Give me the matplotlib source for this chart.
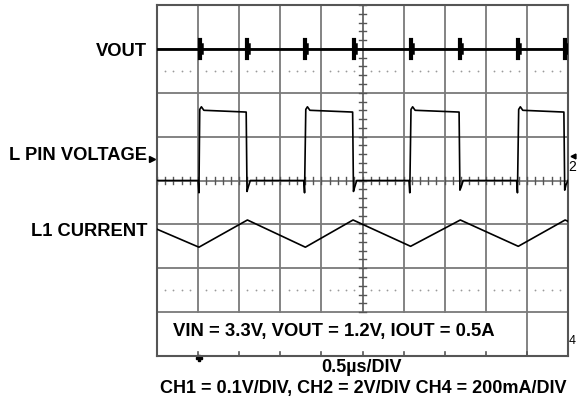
import matplotlib.pyplot as plt
import numpy as np

plt.rcParams['font.family'] = ['Liberation Sans', 'DejaVu Sans']

# screen is 10 x 8 divisions; traces in divisions
rise_times = [1.04, 3.61, 6.17, 8.79]
fall_times = [2.20, 4.79, 7.38, 9.93]

vout_level = 7.0

lpin_t = [0.00, 1.00, 1.02, 1.04, 1.08, 1.14, 2.17, 2.19, 2.22, 2.27,
          3.57, 3.59, 3.62, 3.66, 3.72, 4.76, 4.78, 4.81, 4.86,
          6.13, 6.15, 6.18, 6.22, 6.28, 7.35, 7.37, 7.40, 7.45,
          8.75, 8.77, 8.80, 8.84, 8.90, 9.90, 9.92, 9.95, 10.0]
lpin_v = [4.00, 4.00, 3.72, 5.62, 5.68, 5.60, 5.56, 3.75, 3.85, 4.00,
          4.00, 3.72, 5.62, 5.68, 5.60, 5.56, 3.75, 3.85, 4.00,
          4.00, 3.72, 5.62, 5.68, 5.60, 5.56, 3.78, 3.85, 4.00,
          4.00, 3.72, 5.62, 5.68, 5.60, 5.56, 3.78, 3.90, 4.00]

il_t = [0.00, 1.02, 2.20, 3.61, 4.77, 6.17, 7.38, 8.79, 9.93, 10.0]
il_v = [2.89, 2.48, 3.10, 2.48, 3.10, 2.50, 3.10, 2.50, 3.10, 3.07]

labels = ['VOUT', 'L PIN VOLTAGE', 'L1 CURRENT']
label_y = [6.93, 4.58, 2.84]
cond_text = 'VIN = 3.3V, VOUT = 1.2V, IOUT = 0.5A'
xlabel = '0.5\u00b5s/DIV'
scale_text = 'CH1 = 0.1V/DIV, CH2 = 2V/DIV CH4 = 200mA/DIV'

fig = plt.figure(figsize=(5.78, 4.04), dpi=100)
ax = fig.add_axes([157 / 578, 48 / 404, 411 / 578, 351 / 404])
ax.set_xlim(0, 10)
ax.set_ylim(0, 8)
ax.set_xticks([])
ax.set_yticks([])
for s in ax.spines.values():
    s.set_color('#555555')
    s.set_linewidth(1.5)

grid_c = '#7a7a7a'
# bottom row holds the condition text, so lines 1..8 stop at the first row
for x in range(1, 9):
    if x == 5:
        continue
    ax.axvline(x, ymin=1 / 8, color=grid_c, lw=1.3, zorder=1)
ax.axvline(9, color=grid_c, lw=1.3, zorder=1)
for y in range(1, 8):
    ax.axhline(y, color=grid_c, lw=1.3, zorder=1)

minor = np.arange(0, 10.01, 0.2)
minor_y = np.arange(1, 8.01, 0.2)
# center axes with minor ticks
for x in minor:
    ax.plot([x, x], [3.92, 4.08], color='#555555', lw=1, zorder=2)
for y in minor_y:
    ax.plot([4.92, 5.08], [y, y], color='#555555', lw=1, zorder=2)
ax.axvline(5, ymin=1 / 8, color='#666666', lw=1.3, zorder=1)
# dotted rows
dots = [x for x in minor if abs(x - round(x)) > 0.05]
for y in [6.5, 1.5]:
    ax.plot(dots, [y] * len(dots), ls='none', marker='o', ms=1.3, mew=0, color='#9a9a9a')
# bottom border ticks
for x in range(1, 10):
    ax.plot([x, x], [0, 0.1], color='#555555', lw=1.2)

# traces
ax.plot([0, 10], [vout_level, vout_level], color='black', lw=2.0, zorder=3)
for t in rise_times + fall_times:
    ax.plot([t, t], [6.80, 7.20], color='black', lw=3.0, zorder=3)
    ax.plot([t + 0.05, t + 0.05], [6.90, 7.10], color='black', lw=1.8, zorder=3)
ax.plot(lpin_t, lpin_v, color='black', lw=1.2, zorder=3)
ax.plot(il_t, il_v, color='black', lw=1.2, zorder=3)

ax.text(0.38, 0.55, cond_text, fontsize=13.3, fontweight='bold', va='center', ha='left')

# trigger marker and channel markers
ax.plot([1.03], [-0.05], marker='P', ms=5, color='black', clip_on=False)
ax.text(10.11, 4.3, '2', fontsize=10, va='center', ha='center', clip_on=False)
ax.plot([10.11], [4.55], marker='<', ms=3.5, color='black', clip_on=False)
ax.text(10.11, 0.35, '4', fontsize=9, va='center', ha='center', clip_on=False)

for lab, y in zip(labels, label_y):
    ax.text(-0.24, y, lab, fontsize=13.2, fontweight='bold', ha='right', va='center')
ax.plot([-0.11], [4.5], marker='>', ms=4, color='black', clip_on=False)

fig.text(362 / 578, 1 - 368 / 404, xlabel, fontsize=13, fontweight='bold', ha='center', va='center')
fig.text(363 / 578, 1 - 389 / 404, scale_text, fontsize=13, fontweight='bold', ha='center', va='center')

fig.savefig('out.png', dpi=100)
